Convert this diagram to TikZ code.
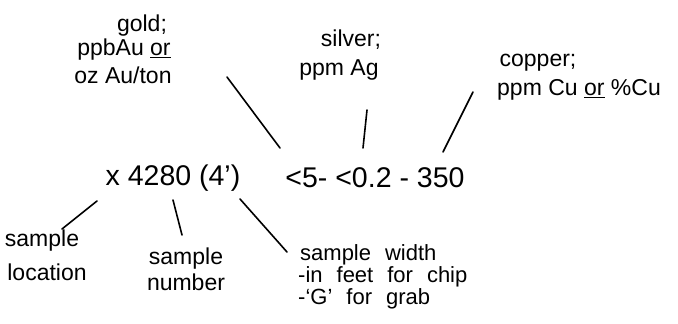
\documentclass[tikz,border=0pt]{standalone}
\usepackage{fontspec}
\setmainfont{Liberation Sans}
\newcommand\mywidesp{\spaceskip=14pt\relax}
\begin{document}
\begin{tikzpicture}[x=1pt,y=-1pt,
  lbl/.style={inner sep=0pt,anchor=center,font=\fontsize{23}{25}\selectfont},
  wide/.style={inner sep=0pt,anchor=west,font=\fontsize{22}{24}\selectfont\mywidesp},
  big/.style={inner sep=0pt,anchor=center,font=\fontsize{28.5}{30}\selectfont},
  conn/.style={line width=1.6pt,line cap=round}]
\useasboundingbox (0,0) rectangle (678,324);
% top labels
\node[lbl] (g1) at (142,26) {gold;};
\node[lbl] (g2) at (124,50) {ppbAu \underline{or}};
\node[lbl] (g3) at (123,75) {oz Au/ton};
\node[lbl] (s1) at (351,40) {silver;};
\node[lbl] (s2) at (339,70) {ppm Ag};
\node[lbl] (c1) at (538,63) {copper;};
\node[lbl] (c2) at (579,90) {ppm Cu \underline{or} \%Cu};
% main line
\node[big] (m1) at (173,178) {x 4280 (4')};
\node[big] (m2) at (375,178) {<5- <0.2 - 350};
% bottom labels
\node[lbl] (l1) at (42,241) {sample};
\node[lbl] (l2) at (47,272) {location};
\node[lbl] (n1) at (186,259) {sample};
\node[lbl] (n2) at (186,282) {number};
\node[wide] (w1) at (300,255) {sample width};
\node[wide] (w2) at (298,277) {-in feet for chip};
\node[wide] (w3) at (298,299) {-`G' for grab};
% connector ends
\coordinate (ga) at (227,77); \coordinate (gb) at (280,148);
\coordinate (sa) at (367,110); \coordinate (sb) at (363,148);
\coordinate (ca) at (473,92); \coordinate (cb) at (443,152);
\coordinate (la) at (97,201); \coordinate (lb) at (62,229);
\coordinate (na) at (173,200); \coordinate (nb) at (182,235);
\coordinate (wa) at (240,199); \coordinate (wb) at (287,252);
\draw[conn] (ga) -- (gb);
\draw[conn] (sa) -- (sb);
\draw[conn] (ca) -- (cb);
\draw[conn] (la) -- (lb);
\draw[conn] (na) -- (nb);
\draw[conn] (wa) -- (wb);
\end{tikzpicture}
\end{document}
